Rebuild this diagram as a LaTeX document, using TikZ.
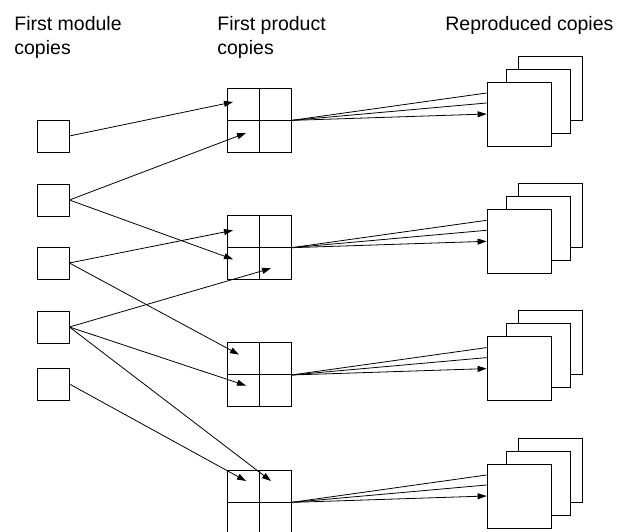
\documentclass[tikz,border=0pt]{standalone}
\usepackage{fontspec}
\setmainfont{Liberation Sans}
\usetikzlibrary{calc,arrows.meta}

\begin{document}
\begin{tikzpicture}[x=1pt,y=-1pt,line width=0.8pt,
    modbox/.style={draw,minimum size=32pt,inner sep=0pt},
    cellbox/.style={draw,minimum size=32pt,inner sep=0pt},
    copybox/.style={draw,fill=white,minimum size=64pt,inner sep=0pt},
    heading/.style={anchor=north west,align=left,inner sep=0pt,font=\fontsize{19.5}{24}\selectfont},
    feed/.style={-{Triangle[length=9pt,width=6pt]}}]
    \useasboundingbox (0,0) rectangle (618,532);
    \node[heading] (h1) at (14,16) {First module\\copies};
    \node[heading] (h2) at (217,16) {First product\\copies};
    \node[heading] (h3) at (445,16) {Reproduced copies};
    % first module copies
    \node[modbox] (m1) at (53,136) {};
    \node[modbox] (m2) at (53,200) {};
    \node[modbox] (m3) at (53,263) {};
    \node[modbox] (m4) at (53,327) {};
    \node[modbox] (m5) at (53,384) {};
    % product grids and their reproduced stacks
    \foreach \i/\y in {1/88,2/215.3,3/342.6,4/470}{
        \node[cellbox] (p\i-tl) at (243,\y+16) {};
        \node[cellbox] (p\i-tr) at (275,\y+16) {};
        \node[cellbox] (p\i-bl) at (243,\y+48) {};
        \node[cellbox] (p\i-br) at (275,\y+48) {};
        \node[copybox] (r\i-c) at (550,\y) {};
        \node[copybox] (r\i-b) at (538,\y+13) {};
        \node[copybox] (r\i-a) at (519,\y+26) {};
        \draw (p\i-tr.south east) -- ($(r\i-a.west)+(0,-21)$);
        \draw (p\i-tr.south east) -- ($(r\i-a.west)+(0,-11)$);
        \draw[feed] (p\i-tr.south east) -- (r\i-a.west);
    }
    % module copies into product copies
    \draw[feed] (m1.east) -- ($(p1-tl)+(-10,-2)$);
    \draw[feed] (m2.east) -- ($(p1-bl)+(3,-3)$);
    \draw[feed] (m2.east) -- ($(p2-bl)+(-10,-4)$);
    \draw[feed] (m3.east) -- ($(p2-tl)+(-10,-1)$);
    \draw[feed] (m3.east) -- ($(p3-tl)+(-4,-4)$);
    \draw[feed] (m4.east) -- ($(p2-br)+(-4,5)$);
    \draw[feed] (m4.east) -- ($(p3-bl)+(3,-5)$);
    \draw[feed] (m4.east) -- ($(p4-tr)+(-4,-5)$);
    \draw[feed] (m5.east) -- ($(p4-tl)+(3,-5)$);
\end{tikzpicture}
\end{document}
